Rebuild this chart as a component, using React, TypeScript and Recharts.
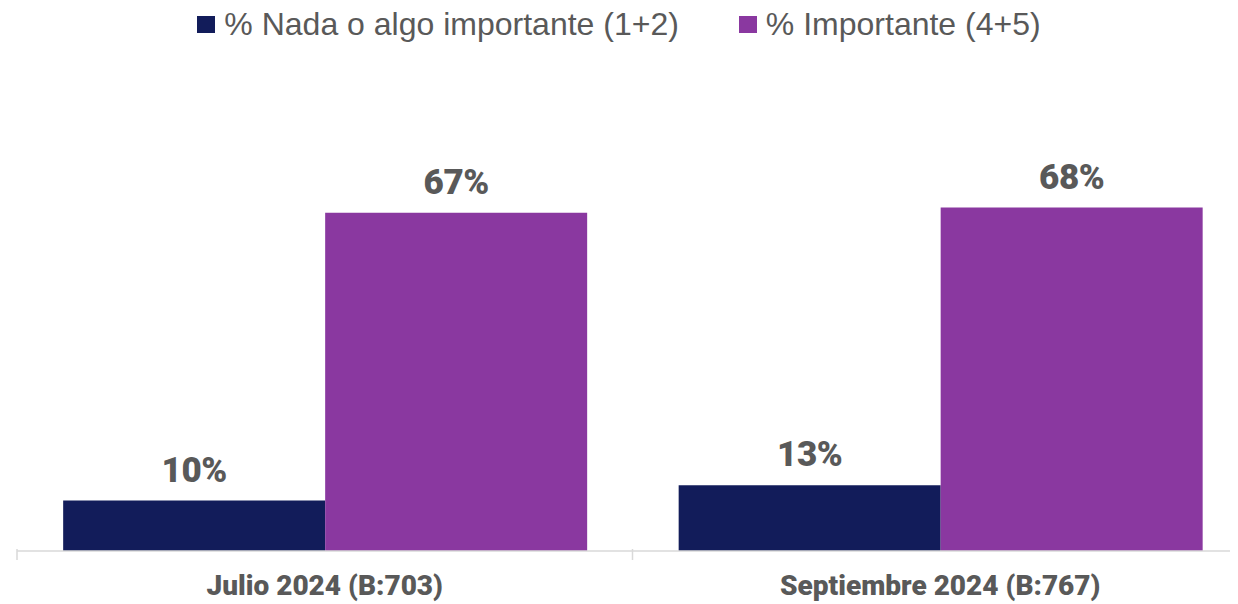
import { BarChart, Bar, XAxis, YAxis, LabelList } from 'recharts';

const categories = ['Julio 2024 (B:703)', 'Septiembre 2024 (B:767)'];
const nadaValues = [10, 13];
const importanteValues = [67, 68];

const SERIES = [
    { key: 'nada', name: '% Nada o algo importante (1+2)', color: '#121C5A' },
    { key: 'importante', name: '% Importante (4+5)', color: '#8A38A0' },
];

const data = categories.map((name, i) => ({
    name,
    nada: nadaValues[i],
    importante: importanteValues[i],
}));

const TEXT = '#595959';
const BOLD_FONT = 'Roboto, "DejaVu Sans", sans-serif';

// etiqueta de categoría + marcas en los límites de cada categoría
const CategoryTick = (props: any) => {
    const { x, y, payload, index, visibleTicksCount } = props;
    const half = payload?.offset || 307;
    const top = y - 10;
    return (
        <g>
            <line x1={x - half} x2={x - half} y1={top} y2={top + 11} stroke="#d9d9d9" strokeWidth={1.5} />
            {index === visibleTicksCount - 1 && (
                <line x1={x + half} x2={x + half} y1={top} y2={top + 11} stroke="#d9d9d9" strokeWidth={1.5} />
            )}
            <text
                x={x}
                y={y + 36}
                textAnchor="middle"
                fill={TEXT}
                fontFamily={BOLD_FONT}
                fontWeight={900}
                fontSize={28}
                letterSpacing={0}
            >
                {payload.value}
            </text>
        </g>
    );
};

export default function App() {
    return (
        <div style={{ position: 'relative', margin: '-8px 0 0 -8px', width: 1238, height: 604, overflow: 'hidden', background: '#fff' }}>
            {/* leyenda */}
            <div style={{ position: 'absolute', top: 6, left: 0, width: 1238, display: 'flex', justifyContent: 'center', gap: 60, fontFamily: '"Liberation Sans", Arial, sans-serif', fontSize: 32, lineHeight: '36px', color: TEXT }}>
                {SERIES.map((s) => (
                    <div key={s.key} style={{ display: 'flex', alignItems: 'center' }}>
                        <span style={{ display: 'inline-block', width: 18, height: 17, background: s.color, marginRight: 9 }} />
                        <span>{s.name}</span>
                    </div>
                ))}
            </div>
            <BarChart
                width={1252}
                height={604}
                data={data}
                margin={{ top: 46, right: 4, bottom: 3, left: 17 }}
                barCategoryGap="7.5%"
                barGap={0}
            >
                <XAxis
                    dataKey="name"
                    height={50}
                    tickLine={false}
                    axisLine={{ stroke: '#d9d9d9', strokeWidth: 1.5 }}
                    tick={<CategoryTick />}
                    interval={0}
                />
                <YAxis hide domain={[0, 100]} />
                {SERIES.map((s) => (
                    <Bar key={s.key} dataKey={s.key} name={s.name} fill={s.color} isAnimationActive={false}>
                        <LabelList
                            dataKey={s.key}
                            position="top"
                            offset={19}
                            formatter={(v: any) => `${v}%`}
                            fill={TEXT}
                            fontFamily={BOLD_FONT}
                            fontWeight={900}
                            fontSize={35}
                            letterSpacing={-0.5}
                        />
                    </Bar>
                ))}
            </BarChart>
        </div>
    );
}
